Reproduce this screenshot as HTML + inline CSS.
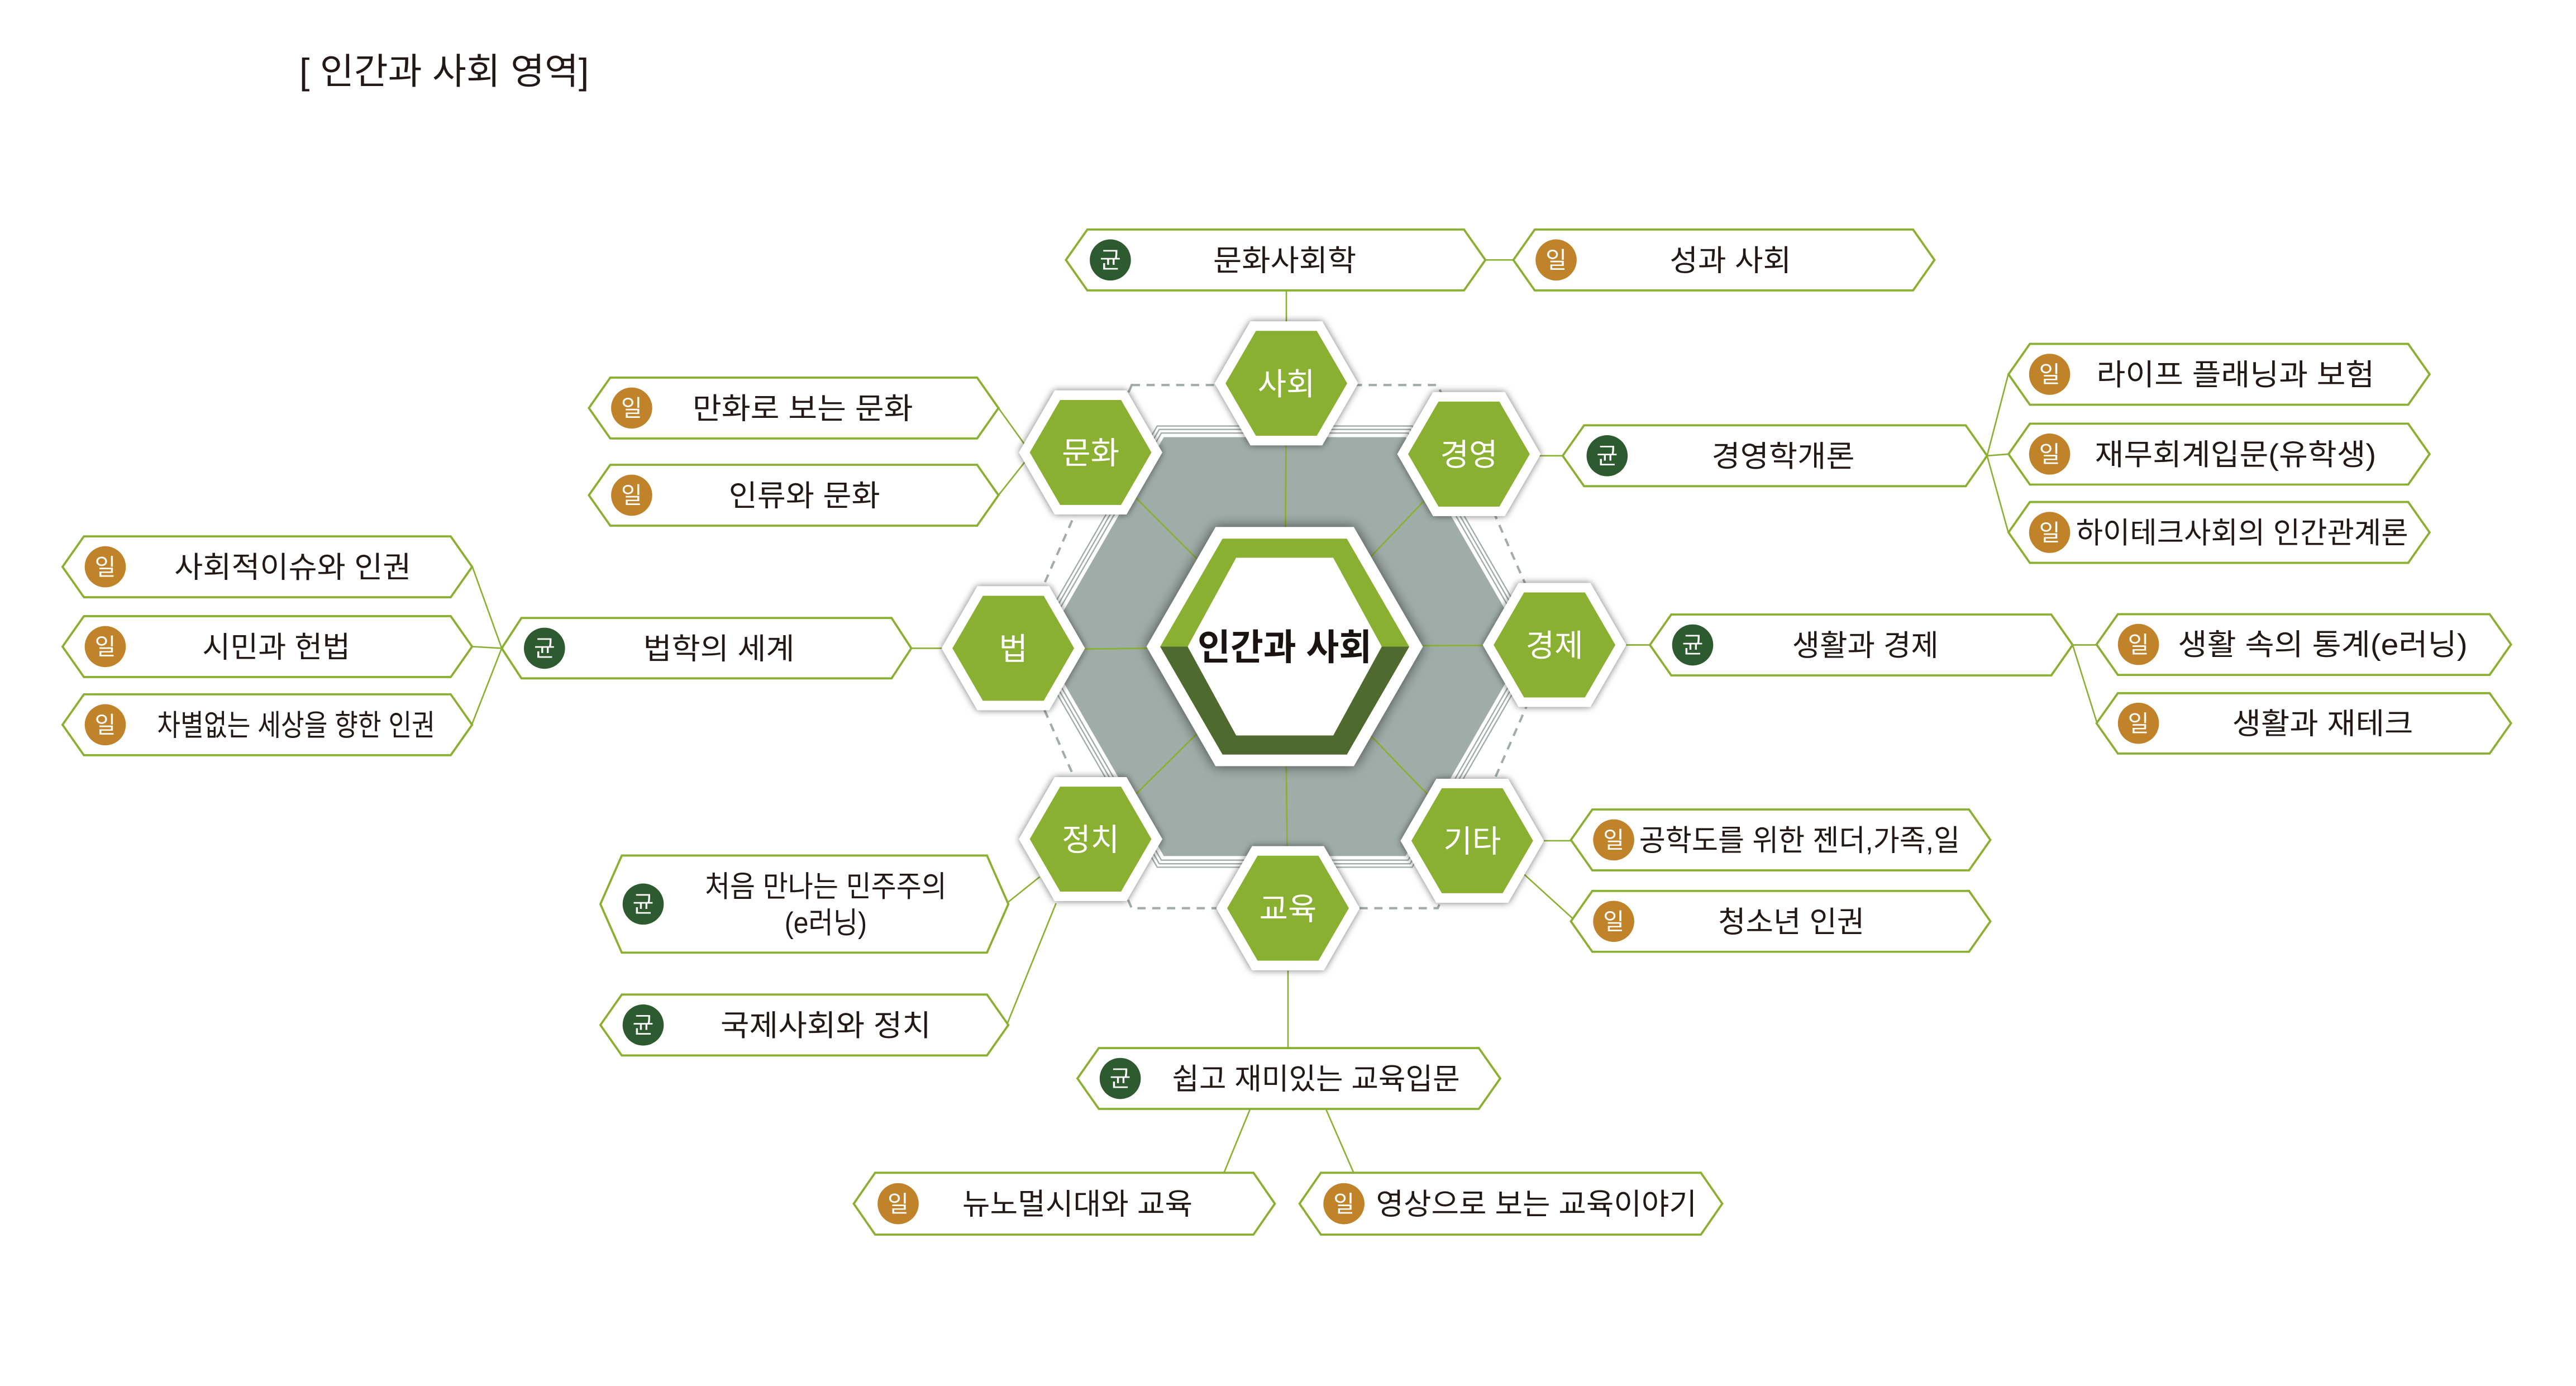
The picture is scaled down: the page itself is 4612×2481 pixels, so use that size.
<!DOCTYPE html>
<html><head><meta charset="utf-8"><style>
html,body{margin:0;padding:0;background:#fff;}
svg{display:block;}
text{font-family:"Liberation Sans","Noto Sans CJK KR",sans-serif;}
</style></head><body>
<svg width="4612" height="2481" viewBox="0 0 1566 842.4" xmlns="http://www.w3.org/2000/svg">
<defs>
<filter id="sh" x="-30%" y="-30%" width="160%" height="160%"><feDropShadow dx="0" dy="0" stdDeviation="2.2" flood-color="#000" flood-opacity="0.55"/></filter>
<filter id="sh2" x="-30%" y="-30%" width="160%" height="160%"><feDropShadow dx="0" dy="0" stdDeviation="4" flood-color="#000" flood-opacity="0.6"/></filter>
<g id="nh"><polygon points="-43.6,0 -21.8,-37.7 21.8,-37.7 43.6,0 21.8,37.7 -21.8,37.7" fill="#fff" filter="url(#sh)"/><polygon points="-37,0 -18.5,-31.9 18.5,-31.9 37,0 18.5,31.9 -18.5,31.9" fill="#8ab032"/></g>
</defs>
<rect width="1566" height="842.4" fill="#fff"/>
<text x="182" y="51" font-size="22" fill="#231815" textLength="176" lengthAdjust="spacingAndGlyphs">[ 인간과 사회 영역]</text>

<!-- dashed outer hex -->
<polygon points="688,234 874,234 944,393 874,552 688,552 618,393" fill="none" stroke="#a0aca7" stroke-width="1.4" stroke-dasharray="5,4"/>

<!-- gray hex with stripes -->
<g fill="none" stroke="#a0aca7" stroke-width="0.8">
<polygon points="626,393 703.5,258.9 858.5,258.9 936,393 858.5,527.1 703.5,527.1"/>
<polygon points="628.5,393 704.75,261 857.25,261 933.5,393 857.25,525 704.75,525"/>
<polygon points="631,393 706,263.2 856,263.2 931,393 856,522.8 706,522.8"/>
</g>
<polygon points="634,393 707.5,265.7 854.5,265.7 928,393 854.5,520.3 707.5,520.3" fill="#a0aca7"/>

<!-- connectors -->
<g stroke="#8ab032" stroke-width="0.9" fill="none">
<line x1="781" y1="393" x2="782" y2="234"/>
<line x1="781" y1="393" x2="663" y2="275"/>
<line x1="781" y1="393" x2="893" y2="276"/>
<line x1="781" y1="393" x2="617" y2="395"/>
<line x1="781" y1="393" x2="945" y2="392"/>
<line x1="781" y1="393" x2="663" y2="510"/>
<line x1="781" y1="393" x2="895" y2="511"/>
<line x1="781" y1="393" x2="783" y2="553"/>
<line x1="782" y1="177" x2="782" y2="200"/>
<line x1="903" y1="158" x2="920" y2="158"/>
<line x1="607" y1="248" x2="630" y2="280"/>
<line x1="607" y1="301" x2="630" y2="272"/>
<line x1="554" y1="394" x2="580" y2="394"/>
<line x1="287" y1="344" x2="305" y2="394"/>
<line x1="287" y1="393" x2="305" y2="394"/>
<line x1="287" y1="440" x2="305" y2="394"/>
<line x1="930" y1="277" x2="950" y2="277"/>
<line x1="1208" y1="277" x2="1221" y2="227"/>
<line x1="1208" y1="277" x2="1221" y2="276"/>
<line x1="1208" y1="277" x2="1221" y2="324"/>
<line x1="985" y1="392" x2="1003" y2="392"/>
<line x1="1260" y1="392" x2="1275" y2="392"/>
<line x1="1260" y1="392" x2="1275" y2="440"/>
<line x1="935" y1="511" x2="955" y2="511"/>
<line x1="925" y1="530" x2="958" y2="560"/>
<line x1="612" y1="549" x2="632" y2="533"/>
<line x1="612" y1="623" x2="642" y2="549"/>
<line x1="783" y1="590" x2="783" y2="637"/>
<line x1="760" y1="674" x2="744" y2="713"/>
<line x1="806" y1="674" x2="823" y2="713"/>
</g>

<!-- center hex -->
<polygon points="697,393 739,320.3 823,320.3 865,393 823,465.7 739,465.7" fill="#fff" filter="url(#sh2)"/>
<polygon points="705.3,393 743.2,327.4 818.8,327.4 856.7,393 818.8,458.6 743.2,458.6" fill="#8ab032"/>
<polygon points="705.3,393 856.7,393 818.8,458.6 743.2,458.6" fill="#4e6a2e"/>
<polygon points="722,393 751.5,339 810.5,339 840,393 810.5,447 751.5,447" fill="#fff"/>
<text x="781" y="401" font-size="22" font-weight="bold" fill="#1a1311" text-anchor="middle" textLength="106" lengthAdjust="spacingAndGlyphs">인간과 사회</text>

<!-- nodes -->
<g font-size="19" fill="#fff" text-anchor="middle">
<use href="#nh" x="782" y="233"/><text x="782" y="240">사회</text>
<use href="#nh" x="663" y="275"/><text x="663" y="282">문화</text>
<use href="#nh" x="893" y="276"/><text x="893" y="283">경영</text>
<use href="#nh" x="616" y="394"/><text x="616" y="401">법</text>
<use href="#nh" x="945" y="392"/><text x="945" y="399">경제</text>
<use href="#nh" x="663" y="510"/><text x="663" y="517">정치</text>
<use href="#nh" x="895" y="511"/><text x="895" y="518">기타</text>
<use href="#nh" x="783" y="552"/><text x="783" y="559">교육</text>
</g>

<!-- label boxes -->
<g stroke="#8ab032" stroke-width="1.3" fill="#fff">
<polygon points="648,158 661,139.5 890,139.5 903,158 890,176.5 661,176.5"/>
<polygon points="920,158 933,139.5 1163,139.5 1176,158 1163,176.5 933,176.5"/>
<polygon points="358,248 371,229.5 594,229.5 607,248 594,266.5 371,266.5"/>
<polygon points="358,301 371,282.5 594,282.5 607,301 594,319.5 371,319.5"/>
<polygon points="38,344.5 51,326 274,326 287,344.5 274,363 51,363"/>
<polygon points="38,393 51,374.5 274,374.5 287,393 274,411.5 51,411.5"/>
<polygon points="38,440.5 51,422 274,422 287,440.5 274,459 51,459"/>
<polygon points="305,394 317,375.6 542,375.6 554,394 542,412.3 317,412.3"/>
<polygon points="950,277 963,258.5 1195,258.5 1208,277 1195,295.5 963,295.5"/>
<polygon points="1221,227.5 1234,209 1464,209 1477,227.5 1464,246 1234,246"/>
<polygon points="1221,276 1234,257.5 1464,257.5 1477,276 1464,294.5 1234,294.5"/>
<polygon points="1221,323.6 1234,305.1 1464,305.1 1477,323.6 1464,342.1 1234,342.1"/>
<polygon points="1003,392 1016,373.5 1247,373.5 1260,392 1247,410.5 1016,410.5"/>
<polygon points="1274.5,391.7 1287.5,373.3 1513.5,373.3 1526.5,391.7 1513.5,410.2 1287.5,410.2"/>
<polygon points="1274.5,439.6 1287.5,421.3 1513.5,421.3 1526.5,439.6 1513.5,458 1287.5,458"/>
<polygon points="955,510.5 968,492 1197,492 1210,510.5 1197,529 968,529"/>
<polygon points="955,560 968,541.5 1197,541.5 1210,560 1197,578.5 968,578.5"/>
<polygon points="365,549.5 378,520 600,520 613,549.5 600,579 378,579"/>
<polygon points="365,623 378,604.5 600,604.5 613,623 600,641.5 378,641.5"/>
<polygon points="655,655.5 668,637 899,637 912,655.5 899,674 668,674"/>
<polygon points="519,731.6 532,712.8 762,712.8 775,731.6 762,750.4 532,750.4"/>
<polygon points="790,731.6 803,712.8 1034,712.8 1047,731.6 1034,750.4 803,750.4"/>
</g>

<!-- badges -->
<g>
<circle cx="675" cy="158" r="12.5" fill="#2d5a2e"/>
<circle cx="946" cy="158" r="12.5" fill="#c0832a"/>
<circle cx="384" cy="248" r="12.5" fill="#c0832a"/>
<circle cx="384" cy="301" r="12.5" fill="#c0832a"/>
<circle cx="64" cy="344.5" r="12.5" fill="#c0832a"/>
<circle cx="64" cy="393" r="12.5" fill="#c0832a"/>
<circle cx="64" cy="440.5" r="12.5" fill="#c0832a"/>
<circle cx="331" cy="394" r="12.5" fill="#2d5a2e"/>
<circle cx="977" cy="277" r="12.5" fill="#2d5a2e"/>
<circle cx="1246" cy="227.5" r="12.5" fill="#c0832a"/>
<circle cx="1246" cy="276" r="12.5" fill="#c0832a"/>
<circle cx="1246" cy="323.6" r="12.5" fill="#c0832a"/>
<circle cx="1029" cy="392" r="12.5" fill="#2d5a2e"/>
<circle cx="1300" cy="391.7" r="12.5" fill="#c0832a"/>
<circle cx="1300" cy="439.6" r="12.5" fill="#c0832a"/>
<circle cx="981" cy="510.5" r="12.5" fill="#c0832a"/>
<circle cx="981" cy="560" r="12.5" fill="#c0832a"/>
<circle cx="391" cy="549.5" r="12.5" fill="#2d5a2e"/>
<circle cx="391" cy="623" r="12.5" fill="#2d5a2e"/>
<circle cx="681" cy="655.5" r="12.5" fill="#2d5a2e"/>
<circle cx="546" cy="731.6" r="12.5" fill="#c0832a"/>
<circle cx="817" cy="731.6" r="12.5" fill="#c0832a"/>
</g>
<g font-size="14" fill="#fff" text-anchor="middle">
<text x="675" y="163">균</text><text x="946" y="163">일</text>
<text x="384" y="253">일</text><text x="384" y="306">일</text>
<text x="64" y="349.5">일</text><text x="64" y="398">일</text><text x="64" y="445.5">일</text>
<text x="331" y="399">균</text><text x="977" y="282">균</text>
<text x="1246" y="232.5">일</text><text x="1246" y="281">일</text><text x="1246" y="328.6">일</text>
<text x="1029" y="397">균</text><text x="1300" y="396.7">일</text><text x="1300" y="444.6">일</text>
<text x="981" y="515.5">일</text><text x="981" y="565">일</text>
<text x="391" y="554.5">균</text><text x="391" y="628">균</text><text x="681" y="660.5">균</text>
<text x="546" y="736.6">일</text><text x="817" y="736.6">일</text>
</g>

<!-- labels -->
<g font-size="18" fill="#231815" text-anchor="middle" lengthAdjust="spacingAndGlyphs">
<text x="781" y="164.5" textLength="87" lengthAdjust="spacingAndGlyphs">문화사회학</text>
<text x="1052" y="164.5" textLength="74" lengthAdjust="spacingAndGlyphs">성과 사회</text>
<text x="488" y="254.5" textLength="134" lengthAdjust="spacingAndGlyphs">만화로 보는 문화</text>
<text x="489" y="307.5" textLength="92" lengthAdjust="spacingAndGlyphs">인류와 문화</text>
<text x="178" y="351" textLength="144" lengthAdjust="spacingAndGlyphs">사회적이슈와 인권</text>
<text x="168" y="399.5" textLength="90" lengthAdjust="spacingAndGlyphs">시민과 헌법</text>
<text x="180" y="447" textLength="169" lengthAdjust="spacingAndGlyphs">차별없는 세상을 향한 인권</text>
<text x="437" y="400.5" textLength="92" lengthAdjust="spacingAndGlyphs">법학의 세계</text>
<text x="1084" y="283.5" textLength="87" lengthAdjust="spacingAndGlyphs">경영학개론</text>
<text x="1359" y="234" textLength="169" lengthAdjust="spacingAndGlyphs">라이프 플래닝과 보험</text>
<text x="1359" y="282.5" textLength="171" lengthAdjust="spacingAndGlyphs">재무회계입문(유학생)</text>
<text x="1363" y="330" textLength="202" lengthAdjust="spacingAndGlyphs">하이테크사회의 인간관계론</text>
<text x="1134" y="398.5" textLength="89" lengthAdjust="spacingAndGlyphs">생활과 경제</text>
<text x="1412" y="398" textLength="176" lengthAdjust="spacingAndGlyphs">생활 속의 통계(e러닝)</text>
<text x="1412" y="446" textLength="110" lengthAdjust="spacingAndGlyphs">생활과 재테크</text>
<text x="1094" y="517" textLength="195" lengthAdjust="spacingAndGlyphs">공학도를 위한 젠더,가족,일</text>
<text x="1089" y="566.5" textLength="89" lengthAdjust="spacingAndGlyphs">청소년 인권</text>
<text x="502" y="545" textLength="147" lengthAdjust="spacingAndGlyphs">처음 만나는 민주주의</text>
<text x="502" y="567" textLength="50" lengthAdjust="spacingAndGlyphs">(e러닝)</text>
<text x="502" y="629.5" textLength="128" lengthAdjust="spacingAndGlyphs">국제사회와 정치</text>
<text x="800" y="662" textLength="175" lengthAdjust="spacingAndGlyphs">쉽고 재미있는 교육입문</text>
<text x="655" y="738" textLength="140" lengthAdjust="spacingAndGlyphs">뉴노멀시대와 교육</text>
<text x="934" y="738" textLength="195" lengthAdjust="spacingAndGlyphs">영상으로 보는 교육이야기</text>
</g>
</svg>
</body></html>
